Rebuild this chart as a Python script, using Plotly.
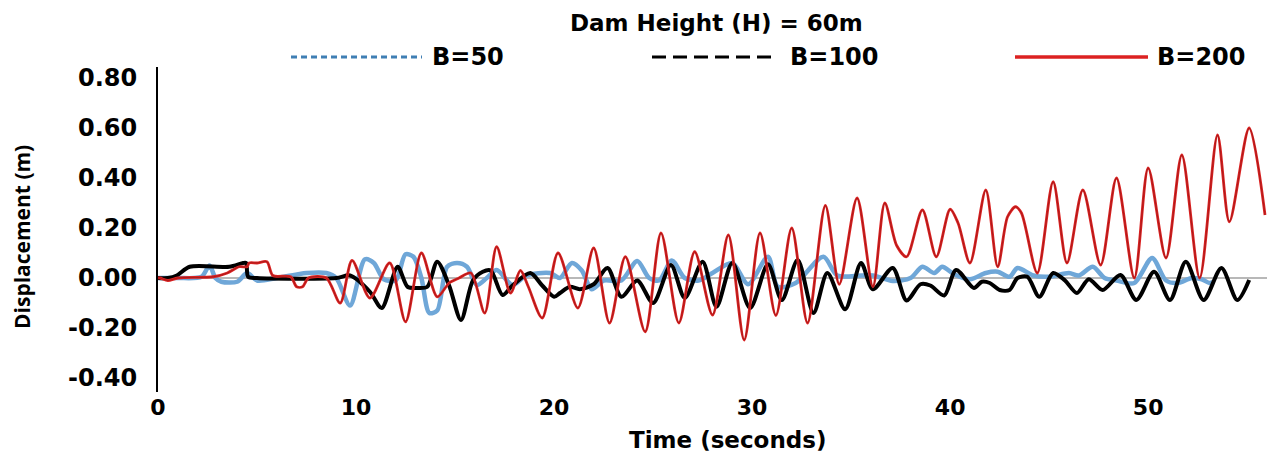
import plotly.graph_objects as go

# ---------------- data ----------------
title_text = "Dam Height (H) = 60m"
series_names = ["B=50", "B=100", "B=200"]
x_ticks = [0, 10, 20, 30, 40, 50]
y_ticks = [-0.40, -0.20, 0.00, 0.20, 0.40, 0.60, 0.80]
y_tick_labels = ["-0.40", "-0.20", "0.00", "0.20", "0.40", "0.60", "0.80"]

t_b50 = [0.0, 1.0, 2.2, 2.6, 2.9, 3.2, 4.0, 4.5, 5.0, 6.0, 7.5, 8.5, 9.0, 9.7,
         10.45, 10.9, 11.4, 12.0, 12.5, 12.9, 13.3, 13.7, 14.1, 14.6, 15.1, 15.6,
         16.1, 16.6, 17.1, 17.9, 18.6, 19.8, 20.3, 20.9, 21.4, 21.9, 22.5, 23.4,
         24.2, 24.8, 25.3, 25.95, 26.6, 27.3, 28.0, 29.0, 29.8, 30.8, 31.3, 32.2,
         33.6, 34.3, 35.5, 36.1, 37.1, 38.0, 38.6, 39.2, 39.6, 40.2, 41.0, 41.8,
         42.4, 43.0, 43.4, 44.2, 45.0, 46.0, 46.5, 47.2, 47.8, 48.4, 49.3, 50.2,
         50.9, 51.5, 52.2, 52.7, 53.1, 53.3]
d_b50 = [0.0, 0.0, 0.005, 0.05, 0.0, -0.015, -0.015, 0.02, -0.01, 0.0, 0.02, 0.02, 0.0, -0.11,
         0.075, 0.06, -0.005, -0.01, 0.095, 0.085, 0.0, -0.14, -0.13, 0.045, 0.06, 0.045,
         -0.028, 0.0, 0.032, -0.028, 0.01, 0.02, 0.0, 0.06, 0.03, -0.045, -0.01, -0.01,
         0.068, 0.0, -0.01, 0.07, 0.0, -0.01, 0.02, 0.06, -0.025, 0.085, -0.035, -0.02,
         0.085, 0.01, 0.01, 0.01, -0.012, 0.0, 0.045, 0.02, 0.045, 0.015, -0.005, 0.02,
         0.025, 0.005, 0.04, 0.01, 0.005, 0.02, 0.01, 0.045, 0.0, -0.01, -0.02, 0.08,
         -0.01, -0.02, 0.0, -0.005, -0.02, -0.015]

t_b100 = [0.0, 0.5, 0.95, 1.6, 3.6, 4.3, 4.45, 4.55, 5.0, 9.0, 9.7, 10.7, 11.3, 12.1,
          12.6, 13.1, 13.6, 14.1, 14.7, 15.3, 15.9, 16.4, 16.8, 17.4, 17.9, 18.8, 19.4,
          20.0, 20.3, 20.8, 21.3, 22.0, 22.7, 23.4, 24.2, 25.0, 25.9, 26.6, 27.5, 28.2,
          29.0, 29.9, 30.8, 31.5, 32.3, 33.1, 33.8, 34.7, 35.5, 36.1, 37.1, 37.8, 38.5,
          39.0, 39.7, 40.3, 41.2, 41.6, 42.0, 42.5, 43.0, 43.4, 43.9, 44.5, 45.2, 45.8,
          46.4, 47.0, 47.7, 48.6, 49.4, 50.3, 51.1, 51.9, 52.8, 53.7, 54.5, 55.1]
d_b100 = [0.0, 0.0, 0.01, 0.045, 0.045, 0.06, 0.06, 0.005, 0.0, 0.0, 0.01, -0.055, -0.12, 0.045,
          -0.035, -0.04, -0.035, 0.065, -0.03, -0.168, -0.01, 0.025, 0.03, -0.068, -0.03, 0.02, -0.03,
          -0.075, -0.06, -0.035, -0.045, -0.025, 0.04, -0.075, -0.01, -0.1, 0.052, -0.08, 0.065, -0.115,
          0.06, -0.12, 0.055, -0.088, 0.072, -0.14, 0.02, -0.125, 0.06, -0.045, 0.04, -0.09, -0.025,
          -0.03, -0.07, 0.032, -0.04, -0.015, -0.02, -0.048, -0.048, 0.0, 0.005, -0.075, 0.02, -0.01,
          -0.06, -0.005, -0.048, 0.012, -0.088, 0.025, -0.088, 0.065, -0.088, 0.04, -0.088, -0.008]

t_b200 = [0.0, 0.1, 0.5, 1.0, 2.8, 3.5, 4.1, 4.5, 4.6, 5.0, 5.5, 5.8, 6.7, 7.0, 7.3, 7.6,
          8.5, 9.2, 9.8, 10.7, 11.7, 12.5, 13.3, 14.1, 14.7, 15.2, 15.8, 16.5, 17.1, 17.8,
          18.3, 18.7, 19.4, 20.2, 21.2, 22.0, 22.8, 23.6, 24.6, 25.4, 26.3, 27.1, 28.0, 28.8,
          29.6, 30.4, 31.2, 32.0, 32.8, 33.7, 34.4, 35.3, 36.1, 36.7, 37.3, 37.8, 38.6, 39.3,
          40.0, 40.4, 41.0, 41.8, 42.4, 42.9, 43.3, 43.6, 44.4, 45.2, 45.9, 46.7, 47.6, 48.4,
          49.3, 50.0, 50.9, 51.7, 52.6, 53.5, 54.1, 55.1, 55.9]
d_b200 = [0.0, 0.0, -0.01, 0.0, 0.005, 0.02, 0.045, 0.045, 0.06, 0.06, 0.065, 0.01, 0.005, -0.035, -0.035, 0.0,
          0.0, -0.1, 0.07, -0.08, 0.06, -0.175, 0.1, -0.075, -0.02, 0.0, 0.02, -0.14, 0.125, -0.06,
          0.03, -0.035, -0.16, 0.1, -0.12, 0.12, -0.18, 0.085, -0.215, 0.18, -0.18, 0.105, -0.148, 0.172,
          -0.248, 0.18, -0.15, 0.2, -0.18, 0.29, -0.025, 0.32, -0.035, 0.3, 0.13, 0.085, 0.272, 0.085,
          0.275, 0.22, 0.06, 0.352, 0.045, 0.245, 0.285, 0.26, 0.02, 0.385, 0.06, 0.352, 0.052, 0.4,
          0.0, 0.44, 0.08, 0.492, 0.0, 0.572, 0.225, 0.6, 0.252]

# ---------------- styling ----------------
FONT = "DejaVu Sans"
BLUE_LINE = "#6fa7d8"
BLUE_LEG = "#3f7fb4"
BLACK = "#000000"
RED = "#dc2222"

fig = go.Figure()
fig.add_trace(go.Scatter(x=t_b50, y=d_b50, mode="lines", name=series_names[0],
                         line=dict(color=BLUE_LINE, width=4.5, shape="spline", smoothing=0.8),
                         showlegend=False))
fig.add_trace(go.Scatter(x=t_b100, y=d_b100, mode="lines", name=series_names[1],
                         line=dict(color=BLACK, width=4, shape="spline", smoothing=0.8),
                         showlegend=False))
fig.add_trace(go.Scatter(x=t_b200, y=d_b200, mode="lines", name=series_names[2],
                         line=dict(color=RED, width=2.8, shape="spline", smoothing=0.8),
                         showlegend=False))
fig.add_trace(go.Scatter(x=t_b200, y=d_b200, mode="lines", name=series_names[2] + " core",
                         line=dict(color="#8a1414", width=0.6, shape="spline", smoothing=0.8),
                         showlegend=False, hoverinfo="skip"))

# plot area geometry (px)
L, R, T, B = 158, 7, 67, 65
W, H = 1274, 457
pw, ph = W - L - R, H - T - B


def px_to_paper_x(px):
    return (px - L) / pw


def px_to_paper_y(py):
    return (H - B - py) / ph


# custom legend (long line samples like the original)
legend_items = [
    (series_names[0], BLUE_LEG, "6px,4px", 3, 291, 422, 430),
    (series_names[1], BLACK, "14px,7px", 3, 652, 777, 788),
    (series_names[2], RED, "solid", 3.5, 1015, 1148, 1155),
]
leg_y = px_to_paper_y(57)
for name, col, dash, wdt, x0, x1, xt in legend_items:
    fig.add_shape(type="line", xref="paper", yref="paper",
                  x0=px_to_paper_x(x0), x1=px_to_paper_x(x1), y0=leg_y, y1=leg_y,
                  line=dict(color=col, width=wdt, dash=dash))
    fig.add_annotation(xref="paper", yref="paper", x=px_to_paper_x(xt), y=leg_y,
                       xanchor="left", yanchor="middle", text=name, showarrow=False,
                       font=dict(family=FONT, size=24, color="black", weight="bold"))

fig.add_annotation(xref="paper", yref="paper", x=px_to_paper_x(716), y=px_to_paper_y(23),
                   xanchor="center", yanchor="middle", text=title_text, showarrow=False,
                   font=dict(family=FONT, size=23, color="black", weight="bold"))
fig.add_annotation(xref="paper", yref="paper", x=px_to_paper_x(22), y=px_to_paper_y(237),
                   xanchor="center", yanchor="middle", text="Displacement (m)", textangle=-90,
                   showarrow=False,
                   font=dict(family="Open Sans", size=21, color="black", weight="bold"))
fig.add_annotation(xref="paper", yref="paper", x=px_to_paper_x(727), y=px_to_paper_y(440),
                   xanchor="center", yanchor="middle", text="Time (seconds)", showarrow=False,
                   font=dict(family=FONT, size=23, color="black", weight="bold"))

fig.update_layout(
    width=W, height=H,
    margin=dict(l=L, r=R, t=T, b=B, pad=0),
    plot_bgcolor="white", paper_bgcolor="white",
    showlegend=False,
)
fig.update_xaxes(range=[0, 56.0], tickvals=x_ticks, showgrid=False, zeroline=False,
                 showline=False, ticks="", ticklabelstandoff=0,
                 tickfont=dict(family=FONT, size=22, color="black", weight="bold"))
fig.update_yaxes(range=[-0.456, 0.844], tickvals=y_ticks, ticktext=y_tick_labels,
                 showgrid=False, zeroline=True, zerolinecolor="#b8b8b8", zerolinewidth=1.5,
                 showline=True, linecolor="black", linewidth=2, ticks="", ticklabelstandoff=14,
                 tickfont=dict(family=FONT, size=24, color="black", weight="bold"))

fig.write_html("out.html", config={"displayModeBar": False},
               post_script="document.body.style.margin='0px';")
